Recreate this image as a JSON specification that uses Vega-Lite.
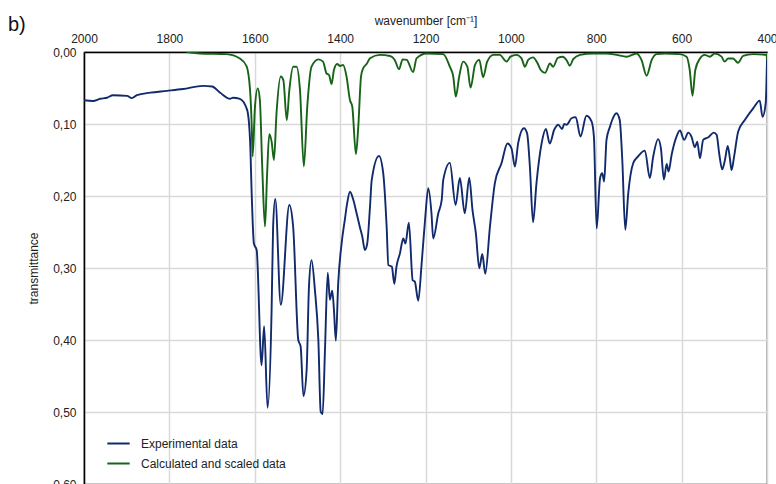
{
  "$schema": "https://vega.github.io/schema/vega-lite/v6.json",
  "width": 683,
  "height": 432,
  "autosize": {"type": "none"},
  "padding": {"left": 84, "top": 52, "right": 9, "bottom": 0},
  "background": "white",
  "config": {
    "font": "Liberation Sans",
    "view": {"stroke": "black", "strokeWidth": 1.2},
    "axis": {"labelFont": "Liberation Sans", "titleFont": "Liberation Sans", "labelColor": "#222", "titleColor": "#222", "labelFontSize": 12, "titleFontSize": 12, "titleFontWeight": "normal", "gridColor": "#d9d9d9", "gridWidth": 1.5, "domainColor": "black", "domainWidth": 1.5, "ticks": false}
  },
  "title": {"text": "b)", "anchor": "start", "frame": "group", "fontSize": 20, "fontWeight": "normal", "font": "Liberation Sans", "color": "#111", "dx": -76, "dy": 21, "offset": 0},
  "datasets": {
    "spectra": [
      {"s": "Experimental data", "w": 2000, "v": 0.067},
      {"s": "Experimental data", "w": 1979, "v": 0.068},
      {"s": "Experimental data", "w": 1962, "v": 0.065},
      {"s": "Experimental data", "w": 1946, "v": 0.0635},
      {"s": "Experimental data", "w": 1932, "v": 0.060},
      {"s": "Experimental data", "w": 1899, "v": 0.061},
      {"s": "Experimental data", "w": 1888, "v": 0.064},
      {"s": "Experimental data", "w": 1876, "v": 0.060},
      {"s": "Experimental data", "w": 1845, "v": 0.0565},
      {"s": "Experimental data", "w": 1806, "v": 0.054},
      {"s": "Experimental data", "w": 1768, "v": 0.0514},
      {"s": "Experimental data", "w": 1721, "v": 0.047},
      {"s": "Experimental data", "w": 1700, "v": 0.048},
      {"s": "Experimental data", "w": 1681, "v": 0.0565},
      {"s": "Experimental data", "w": 1658, "v": 0.065},
      {"s": "Experimental data", "w": 1651, "v": 0.0635},
      {"s": "Experimental data", "w": 1635, "v": 0.065},
      {"s": "Experimental data", "w": 1618, "v": 0.080},
      {"s": "Experimental data", "w": 1611, "v": 0.122},
      {"s": "Experimental data", "w": 1607, "v": 0.20},
      {"s": "Experimental data", "w": 1602, "v": 0.266},
      {"s": "Experimental data", "w": 1595.5, "v": 0.275},
      {"s": "Experimental data", "w": 1584, "v": 0.435},
      {"s": "Experimental data", "w": 1578, "v": 0.381},
      {"s": "Experimental data", "w": 1570, "v": 0.494},
      {"s": "Experimental data", "w": 1560.5, "v": 0.358},
      {"s": "Experimental data", "w": 1557, "v": 0.243},
      {"s": "Experimental data", "w": 1552, "v": 0.204},
      {"s": "Experimental data", "w": 1539, "v": 0.351},
      {"s": "Experimental data", "w": 1519, "v": 0.2125},
      {"s": "Experimental data", "w": 1510, "v": 0.243},
      {"s": "Experimental data", "w": 1498, "v": 0.40},
      {"s": "Experimental data", "w": 1492.5, "v": 0.409},
      {"s": "Experimental data", "w": 1486, "v": 0.478},
      {"s": "Experimental data", "w": 1478.5, "v": 0.442},
      {"s": "Experimental data", "w": 1473, "v": 0.326},
      {"s": "Experimental data", "w": 1467, "v": 0.289},
      {"s": "Experimental data", "w": 1459, "v": 0.331},
      {"s": "Experimental data", "w": 1451, "v": 0.40},
      {"s": "Experimental data", "w": 1445.5, "v": 0.4996},
      {"s": "Experimental data", "w": 1441, "v": 0.503},
      {"s": "Experimental data", "w": 1435.5, "v": 0.414},
      {"s": "Experimental data", "w": 1429, "v": 0.3065},
      {"s": "Experimental data", "w": 1424, "v": 0.344},
      {"s": "Experimental data", "w": 1418.5, "v": 0.3315},
      {"s": "Experimental data", "w": 1414.5, "v": 0.358},
      {"s": "Experimental data", "w": 1410, "v": 0.401},
      {"s": "Experimental data", "w": 1404.5, "v": 0.321},
      {"s": "Experimental data", "w": 1396.5, "v": 0.266},
      {"s": "Experimental data", "w": 1389, "v": 0.233},
      {"s": "Experimental data", "w": 1383.5, "v": 0.21},
      {"s": "Experimental data", "w": 1377, "v": 0.194},
      {"s": "Experimental data", "w": 1369, "v": 0.2055},
      {"s": "Experimental data", "w": 1361, "v": 0.225},
      {"s": "Experimental data", "w": 1353, "v": 0.245},
      {"s": "Experimental data", "w": 1348, "v": 0.2565},
      {"s": "Experimental data", "w": 1342, "v": 0.275},
      {"s": "Experimental data", "w": 1336.5, "v": 0.266},
      {"s": "Experimental data", "w": 1330, "v": 0.215},
      {"s": "Experimental data", "w": 1326, "v": 0.178},
      {"s": "Experimental data", "w": 1309, "v": 0.1445},
      {"s": "Experimental data", "w": 1299, "v": 0.1685},
      {"s": "Experimental data", "w": 1291, "v": 0.243},
      {"s": "Experimental data", "w": 1287, "v": 0.296},
      {"s": "Experimental data", "w": 1279, "v": 0.298},
      {"s": "Experimental data", "w": 1273, "v": 0.322},
      {"s": "Experimental data", "w": 1268, "v": 0.298},
      {"s": "Experimental data", "w": 1260, "v": 0.28},
      {"s": "Experimental data", "w": 1252, "v": 0.259},
      {"s": "Experimental data", "w": 1247, "v": 0.266},
      {"s": "Experimental data", "w": 1239, "v": 0.237},
      {"s": "Experimental data", "w": 1230, "v": 0.317},
      {"s": "Experimental data", "w": 1225, "v": 0.319},
      {"s": "Experimental data", "w": 1217, "v": 0.3455},
      {"s": "Experimental data", "w": 1209, "v": 0.2935},
      {"s": "Experimental data", "w": 1201, "v": 0.233},
      {"s": "Experimental data", "w": 1193.5, "v": 0.189},
      {"s": "Experimental data", "w": 1186, "v": 0.224},
      {"s": "Experimental data", "w": 1182, "v": 0.259},
      {"s": "Experimental data", "w": 1170, "v": 0.224},
      {"s": "Experimental data", "w": 1162, "v": 0.2055},
      {"s": "Experimental data", "w": 1158.5, "v": 0.178},
      {"s": "Experimental data", "w": 1143, "v": 0.154},
      {"s": "Experimental data", "w": 1129.5, "v": 0.2125},
      {"s": "Experimental data", "w": 1119.5, "v": 0.175},
      {"s": "Experimental data", "w": 1108, "v": 0.224},
      {"s": "Experimental data", "w": 1097.5, "v": 0.1745},
      {"s": "Experimental data", "w": 1090, "v": 0.219},
      {"s": "Experimental data", "w": 1082, "v": 0.252},
      {"s": "Experimental data", "w": 1074, "v": 0.3005},
      {"s": "Experimental data", "w": 1067, "v": 0.2805},
      {"s": "Experimental data", "w": 1060, "v": 0.308},
      {"s": "Experimental data", "w": 1049, "v": 0.2425},
      {"s": "Experimental data", "w": 1037.5, "v": 0.182},
      {"s": "Experimental data", "w": 1022, "v": 0.1545},
      {"s": "Experimental data", "w": 1008, "v": 0.127},
      {"s": "Experimental data", "w": 998.5, "v": 0.134},
      {"s": "Experimental data", "w": 990.5, "v": 0.159},
      {"s": "Experimental data", "w": 983, "v": 0.127},
      {"s": "Experimental data", "w": 969.5, "v": 0.106},
      {"s": "Experimental data", "w": 962, "v": 0.113},
      {"s": "Experimental data", "w": 955.5, "v": 0.159},
      {"s": "Experimental data", "w": 948, "v": 0.2365},
      {"s": "Experimental data", "w": 940, "v": 0.182},
      {"s": "Experimental data", "w": 928, "v": 0.127},
      {"s": "Experimental data", "w": 918, "v": 0.107},
      {"s": "Experimental data", "w": 909, "v": 0.127},
      {"s": "Experimental data", "w": 898.5, "v": 0.108},
      {"s": "Experimental data", "w": 889, "v": 0.101},
      {"s": "Experimental data", "w": 880, "v": 0.107},
      {"s": "Experimental data", "w": 875, "v": 0.100},
      {"s": "Experimental data", "w": 869.5, "v": 0.101},
      {"s": "Experimental data", "w": 858, "v": 0.092},
      {"s": "Experimental data", "w": 848, "v": 0.0905},
      {"s": "Experimental data", "w": 837, "v": 0.1175},
      {"s": "Experimental data", "w": 823, "v": 0.0885},
      {"s": "Experimental data", "w": 811, "v": 0.0965},
      {"s": "Experimental data", "w": 805.5, "v": 0.1175},
      {"s": "Experimental data", "w": 799, "v": 0.245},
      {"s": "Experimental data", "w": 791, "v": 0.175},
      {"s": "Experimental data", "w": 786, "v": 0.1685},
      {"s": "Experimental data", "w": 781.5, "v": 0.18},
      {"s": "Experimental data", "w": 776, "v": 0.122},
      {"s": "Experimental data", "w": 768, "v": 0.104},
      {"s": "Experimental data", "w": 764, "v": 0.0965},
      {"s": "Experimental data", "w": 752.5, "v": 0.085},
      {"s": "Experimental data", "w": 745, "v": 0.0945},
      {"s": "Experimental data", "w": 739, "v": 0.15},
      {"s": "Experimental data", "w": 732, "v": 0.247},
      {"s": "Experimental data", "w": 725, "v": 0.196},
      {"s": "Experimental data", "w": 713.5, "v": 0.1545},
      {"s": "Experimental data", "w": 702, "v": 0.145},
      {"s": "Experimental data", "w": 686, "v": 0.137},
      {"s": "Experimental data", "w": 674.5, "v": 0.175},
      {"s": "Experimental data", "w": 666.5, "v": 0.145},
      {"s": "Experimental data", "w": 655, "v": 0.121},
      {"s": "Experimental data", "w": 648.5, "v": 0.134},
      {"s": "Experimental data", "w": 641.5, "v": 0.177},
      {"s": "Experimental data", "w": 635, "v": 0.1555},
      {"s": "Experimental data", "w": 630.5, "v": 0.166},
      {"s": "Experimental data", "w": 623.5, "v": 0.143},
      {"s": "Experimental data", "w": 613.5, "v": 0.12},
      {"s": "Experimental data", "w": 604, "v": 0.109},
      {"s": "Experimental data", "w": 594, "v": 0.122},
      {"s": "Experimental data", "w": 584.5, "v": 0.112},
      {"s": "Experimental data", "w": 577, "v": 0.1175},
      {"s": "Experimental data", "w": 569, "v": 0.1325},
      {"s": "Experimental data", "w": 563.5, "v": 0.1245},
      {"s": "Experimental data", "w": 557, "v": 0.1475},
      {"s": "Experimental data", "w": 549.5, "v": 0.122},
      {"s": "Experimental data", "w": 537.5, "v": 0.1185},
      {"s": "Experimental data", "w": 524.5, "v": 0.112},
      {"s": "Experimental data", "w": 518, "v": 0.115},
      {"s": "Experimental data", "w": 512, "v": 0.141},
      {"s": "Experimental data", "w": 505, "v": 0.163},
      {"s": "Experimental data", "w": 498.5, "v": 0.15},
      {"s": "Experimental data", "w": 492, "v": 0.1305},
      {"s": "Experimental data", "w": 487, "v": 0.1475},
      {"s": "Experimental data", "w": 483, "v": 0.164},
      {"s": "Experimental data", "w": 477, "v": 0.145},
      {"s": "Experimental data", "w": 467.5, "v": 0.1105},
      {"s": "Experimental data", "w": 452, "v": 0.0945},
      {"s": "Experimental data", "w": 432, "v": 0.078},
      {"s": "Experimental data", "w": 417, "v": 0.0675},
      {"s": "Experimental data", "w": 410.5, "v": 0.09},
      {"s": "Experimental data", "w": 403, "v": 0.071},
      {"s": "Experimental data", "w": 400, "v": 0.01},
      {"s": "Calculated and scaled data", "w": 1760, "v": 0.0},
      {"s": "Calculated and scaled data", "w": 1728, "v": 0.002},
      {"s": "Calculated and scaled data", "w": 1666, "v": 0.003},
      {"s": "Calculated and scaled data", "w": 1635, "v": 0.009},
      {"s": "Calculated and scaled data", "w": 1619, "v": 0.02},
      {"s": "Calculated and scaled data", "w": 1611, "v": 0.053},
      {"s": "Calculated and scaled data", "w": 1607, "v": 0.104},
      {"s": "Calculated and scaled data", "w": 1605, "v": 0.145},
      {"s": "Calculated and scaled data", "w": 1599.5, "v": 0.076},
      {"s": "Calculated and scaled data", "w": 1593, "v": 0.0505},
      {"s": "Calculated and scaled data", "w": 1588, "v": 0.0667},
      {"s": "Calculated and scaled data", "w": 1582.5, "v": 0.159},
      {"s": "Calculated and scaled data", "w": 1576, "v": 0.2425},
      {"s": "Calculated and scaled data", "w": 1571, "v": 0.1685},
      {"s": "Calculated and scaled data", "w": 1566, "v": 0.114},
      {"s": "Calculated and scaled data", "w": 1560.5, "v": 0.1245},
      {"s": "Calculated and scaled data", "w": 1555, "v": 0.15},
      {"s": "Calculated and scaled data", "w": 1549, "v": 0.085},
      {"s": "Calculated and scaled data", "w": 1539, "v": 0.034},
      {"s": "Calculated and scaled data", "w": 1533, "v": 0.039},
      {"s": "Calculated and scaled data", "w": 1525, "v": 0.0944},
      {"s": "Calculated and scaled data", "w": 1519, "v": 0.053},
      {"s": "Calculated and scaled data", "w": 1510, "v": 0.0204},
      {"s": "Calculated and scaled data", "w": 1502, "v": 0.0204},
      {"s": "Calculated and scaled data", "w": 1494, "v": 0.053},
      {"s": "Calculated and scaled data", "w": 1485, "v": 0.159},
      {"s": "Calculated and scaled data", "w": 1477, "v": 0.076},
      {"s": "Calculated and scaled data", "w": 1467, "v": 0.0204},
      {"s": "Calculated and scaled data", "w": 1451, "v": 0.0102},
      {"s": "Calculated and scaled data", "w": 1440, "v": 0.0134},
      {"s": "Calculated and scaled data", "w": 1432, "v": 0.0296},
      {"s": "Calculated and scaled data", "w": 1426, "v": 0.032},
      {"s": "Calculated and scaled data", "w": 1420, "v": 0.0445},
      {"s": "Calculated and scaled data", "w": 1414.5, "v": 0.025},
      {"s": "Calculated and scaled data", "w": 1407, "v": 0.0167},
      {"s": "Calculated and scaled data", "w": 1400, "v": 0.0194},
      {"s": "Calculated and scaled data", "w": 1393, "v": 0.018},
      {"s": "Calculated and scaled data", "w": 1385, "v": 0.034},
      {"s": "Calculated and scaled data", "w": 1377, "v": 0.0667},
      {"s": "Calculated and scaled data", "w": 1371.5, "v": 0.076},
      {"s": "Calculated and scaled data", "w": 1363, "v": 0.1417},
      {"s": "Calculated and scaled data", "w": 1357.5, "v": 0.104},
      {"s": "Calculated and scaled data", "w": 1351, "v": 0.034},
      {"s": "Calculated and scaled data", "w": 1346, "v": 0.0227},
      {"s": "Calculated and scaled data", "w": 1338, "v": 0.0167},
      {"s": "Calculated and scaled data", "w": 1330, "v": 0.0088},
      {"s": "Calculated and scaled data", "w": 1307, "v": 0.004},
      {"s": "Calculated and scaled data", "w": 1283, "v": 0.0056},
      {"s": "Calculated and scaled data", "w": 1272, "v": 0.011},
      {"s": "Calculated and scaled data", "w": 1262, "v": 0.024},
      {"s": "Calculated and scaled data", "w": 1253.5, "v": 0.0102},
      {"s": "Calculated and scaled data", "w": 1244, "v": 0.011},
      {"s": "Calculated and scaled data", "w": 1229, "v": 0.028},
      {"s": "Calculated and scaled data", "w": 1221, "v": 0.0088},
      {"s": "Calculated and scaled data", "w": 1197.5, "v": 0.002},
      {"s": "Calculated and scaled data", "w": 1158.5, "v": 0.003},
      {"s": "Calculated and scaled data", "w": 1143, "v": 0.0204},
      {"s": "Calculated and scaled data", "w": 1135, "v": 0.034},
      {"s": "Calculated and scaled data", "w": 1129, "v": 0.062},
      {"s": "Calculated and scaled data", "w": 1121, "v": 0.034},
      {"s": "Calculated and scaled data", "w": 1112, "v": 0.0134},
      {"s": "Calculated and scaled data", "w": 1102, "v": 0.0204},
      {"s": "Calculated and scaled data", "w": 1094.5, "v": 0.0495},
      {"s": "Calculated and scaled data", "w": 1084, "v": 0.018},
      {"s": "Calculated and scaled data", "w": 1074, "v": 0.011},
      {"s": "Calculated and scaled data", "w": 1065, "v": 0.035},
      {"s": "Calculated and scaled data", "w": 1055.5, "v": 0.0134},
      {"s": "Calculated and scaled data", "w": 1041, "v": 0.004},
      {"s": "Calculated and scaled data", "w": 1026, "v": 0.004},
      {"s": "Calculated and scaled data", "w": 1010, "v": 0.0134},
      {"s": "Calculated and scaled data", "w": 1001, "v": 0.0065},
      {"s": "Calculated and scaled data", "w": 987, "v": 0.004},
      {"s": "Calculated and scaled data", "w": 975, "v": 0.0088},
      {"s": "Calculated and scaled data", "w": 967, "v": 0.0204},
      {"s": "Calculated and scaled data", "w": 959.5, "v": 0.011},
      {"s": "Calculated and scaled data", "w": 948, "v": 0.0074},
      {"s": "Calculated and scaled data", "w": 938, "v": 0.015},
      {"s": "Calculated and scaled data", "w": 930, "v": 0.025},
      {"s": "Calculated and scaled data", "w": 920, "v": 0.029},
      {"s": "Calculated and scaled data", "w": 908.5, "v": 0.016},
      {"s": "Calculated and scaled data", "w": 901, "v": 0.0204},
      {"s": "Calculated and scaled data", "w": 890, "v": 0.008},
      {"s": "Calculated and scaled data", "w": 878, "v": 0.0065},
      {"s": "Calculated and scaled data", "w": 869, "v": 0.012},
      {"s": "Calculated and scaled data", "w": 862, "v": 0.019},
      {"s": "Calculated and scaled data", "w": 854, "v": 0.010},
      {"s": "Calculated and scaled data", "w": 838, "v": 0.004},
      {"s": "Calculated and scaled data", "w": 807, "v": 0.002},
      {"s": "Calculated and scaled data", "w": 776, "v": 0.002},
      {"s": "Calculated and scaled data", "w": 752.5, "v": 0.004},
      {"s": "Calculated and scaled data", "w": 729, "v": 0.0065},
      {"s": "Calculated and scaled data", "w": 706, "v": 0.002},
      {"s": "Calculated and scaled data", "w": 694, "v": 0.011},
      {"s": "Calculated and scaled data", "w": 682, "v": 0.033},
      {"s": "Calculated and scaled data", "w": 670, "v": 0.011},
      {"s": "Calculated and scaled data", "w": 659, "v": 0.003},
      {"s": "Calculated and scaled data", "w": 639, "v": 0.002},
      {"s": "Calculated and scaled data", "w": 604, "v": 0.003},
      {"s": "Calculated and scaled data", "w": 588.5, "v": 0.0065},
      {"s": "Calculated and scaled data", "w": 581, "v": 0.025},
      {"s": "Calculated and scaled data", "w": 574.5, "v": 0.0607},
      {"s": "Calculated and scaled data", "w": 568, "v": 0.025},
      {"s": "Calculated and scaled data", "w": 557, "v": 0.009},
      {"s": "Calculated and scaled data", "w": 546, "v": 0.004},
      {"s": "Calculated and scaled data", "w": 534, "v": 0.0065},
      {"s": "Calculated and scaled data", "w": 522, "v": 0.002},
      {"s": "Calculated and scaled data", "w": 506.5, "v": 0.0065},
      {"s": "Calculated and scaled data", "w": 499, "v": 0.0134},
      {"s": "Calculated and scaled data", "w": 491, "v": 0.009},
      {"s": "Calculated and scaled data", "w": 479.5, "v": 0.009},
      {"s": "Calculated and scaled data", "w": 468, "v": 0.015},
      {"s": "Calculated and scaled data", "w": 456, "v": 0.0055},
      {"s": "Calculated and scaled data", "w": 432.5, "v": 0.003},
      {"s": "Calculated and scaled data", "w": 401, "v": 0.004},
      {"s": "Calculated and scaled data", "w": 400, "v": 0.011}
    ]
  },
  "data": {"name": "spectra"},
  "mark": {"type": "line", "interpolate": "monotone", "strokeWidth": 1.9, "clip": true},
  "encoding": {
    "x": {
      "field": "w", "type": "quantitative",
      "scale": {"domain": [400, 2000], "reverse": true, "nice": false, "zero": false},
      "axis": {"orient": "top", "values": [2000, 1800, 1600, 1400, 1200, 1000, 800, 600, 400], "format": "d", "title": "wavenumber [cm⁻¹]", "labelPadding": 7, "titlePadding": 5, "labelFlush": false}
    },
    "y": {
      "field": "v", "type": "quantitative",
      "scale": {"domain": [0, 0.6], "reverse": true, "nice": false, "zero": false},
      "axis": {"values": [0, 0.1, 0.2, 0.3, 0.4, 0.5, 0.6], "labelExpr": "replace(format(datum.value, '.2f'), '.', ',')", "title": "transmittance", "labelPadding": 8, "titlePadding": 12}
    },
    "color": {
      "field": "s", "type": "nominal",
      "scale": {"domain": ["Experimental data", "Calculated and scaled data"], "range": ["#112a6c", "#176318"]},
      "legend": {"orient": "none", "legendX": 22, "legendY": 379, "title": null, "symbolType": "stroke", "symbolStrokeWidth": 2, "symbolSize": 500, "labelFontSize": 12, "labelFont": "Liberation Sans", "labelColor": "#222", "rowPadding": 1, "labelOffset": 10}
    }
  }
}
